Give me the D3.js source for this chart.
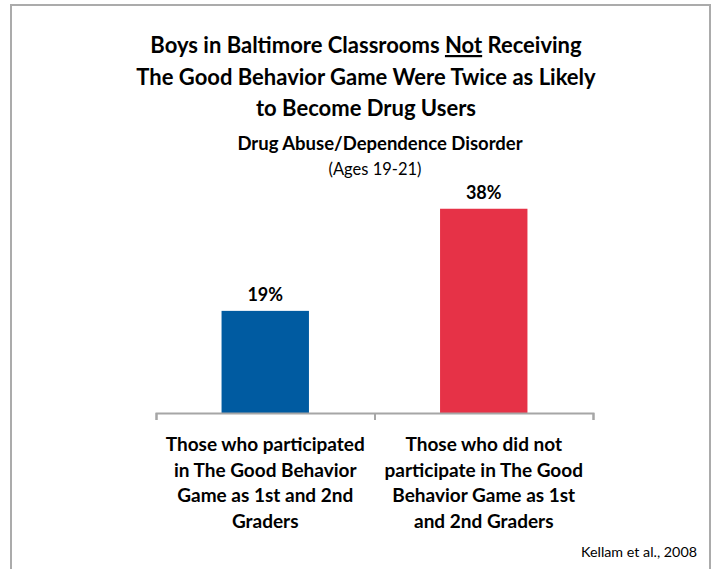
<!DOCTYPE html>
<html>
<head>
<meta charset="utf-8">
<script src="https://cdn.jsdelivr.net/npm/d3@7"></script>
<style>
  body { margin: 0; background: #fff; }
  text { font-family: Lato, "Open Sans", sans-serif; fill: #000; }
</style>
</head>
<body>
<div id="chart"></div>
<script>
// Data
const categories = [
  ["Those who participated", "in The Good Behavior", "Game as 1st and 2nd", "Graders"],
  ["Those who did not", "participate in The Good", "Behavior Game as 1st", "and 2nd Graders"]
]
const values = [19, 38]
const colors = ["#005ba1", "#e63247"]

const width = 715, height = 569
const margin = {top: 198, right: 122, bottom: 156, left: 156}

const svg = d3.select("#chart")
  .append("svg")
  .attr("width", width)
  .attr("height", height)

// outer frame (bottom runs off the picture)
svg.append("path")
  .attr("d", `M11,${height + 5} V5 H710 V${height + 5}`)
  .attr("fill", "none")
  .attr("stroke", "#ababab")
  .attr("stroke-width", 2)

// Title
const title = svg.append("text")
  .attr("x", 366).attr("y", 53)
  .attr("text-anchor", "middle")
  .style("font-size", "22px").style("font-weight", "bold")
title.append("tspan").text("Boys in Baltimore Classrooms ")
title.append("tspan").text("Not").style("text-decoration", "underline")
title.append("tspan").text(" Receiving")
svg.append("text")
  .attr("x", 366).attr("y", 85)
  .attr("text-anchor", "middle")
  .style("font-size", "22px").style("font-weight", "bold")
  .text("The Good Behavior Game Were Twice as Likely")
svg.append("text")
  .attr("x", 366).attr("y", 116)
  .attr("text-anchor", "middle")
  .style("font-size", "22px").style("font-weight", "bold")
  .text("to Become Drug Users")

svg.append("text")
  .attr("x", 380).attr("y", 150)
  .attr("text-anchor", "middle")
  .style("font-size", "18.5px").style("font-weight", "bold")
  .text("Drug Abuse/Dependence Disorder")
svg.append("text")
  .attr("x", 375).attr("y", 175)
  .attr("text-anchor", "middle")
  .style("font-size", "16.5px")
  .text("(Ages 19-21)")

// Scales
const x = d3.scaleBand()
  .domain(d3.range(values.length))
  .range([margin.left, width - margin.right])
  .paddingInner(0.6).paddingOuter(0.3)

const y = d3.scaleLinear()
  .domain([0, 40])
  .range([height - margin.bottom, margin.top])

// Bars
svg.selectAll("rect.bar")
  .data(values)
  .join("rect")
    .attr("class", "bar")
    .attr("x", (d, i) => x(i))
    .attr("y", d => y(d))
    .attr("width", x.bandwidth())
    .attr("height", d => y(0) - y(d))
    .attr("fill", (d, i) => colors[i])

// Value labels
svg.selectAll("text.val")
  .data(values)
  .join("text")
    .attr("class", "val")
    .attr("x", (d, i) => x(i) + x.bandwidth() / 2)
    .attr("y", d => y(d) - 10)
    .attr("text-anchor", "middle")
    .style("font-size", "18px").style("font-weight", "bold")
    .text(d => d + "%")

// Axis with ticks between categories
const xEdge = d3.scaleLinear().domain([0, values.length]).range([margin.left, width - margin.right])
svg.append("g")
  .attr("transform", `translate(0,${y(0)})`)
  .call(d3.axisBottom(xEdge).ticks(values.length).tickSize(7).tickSizeOuter(7).tickFormat(""))
  .call(g => g.selectAll("line, path").attr("stroke", "#a6a6a6").attr("stroke-width", 2))

// Category labels
const step = (width - margin.right - margin.left) / values.length
categories.forEach((lines, i) => {
  svg.append("text")
    .attr("x", margin.left + step * (i + 0.5))
    .attr("y", 451)
    .attr("text-anchor", "middle")
    .style("font-size", "19px").style("font-weight", "bold")
    .selectAll("tspan")
    .data(lines)
    .join("tspan")
      .attr("x", margin.left + step * (i + 0.5))
      .attr("dy", (d, j) => j === 0 ? 0 : 25.5)
      .text(d => d)
})

// Source
svg.append("text")
  .attr("x", 697).attr("y", 557)
  .attr("text-anchor", "end")
  .style("font-size", "14.3px")
  .text("Kellam et al., 2008")
</script>
</body>
</html>
